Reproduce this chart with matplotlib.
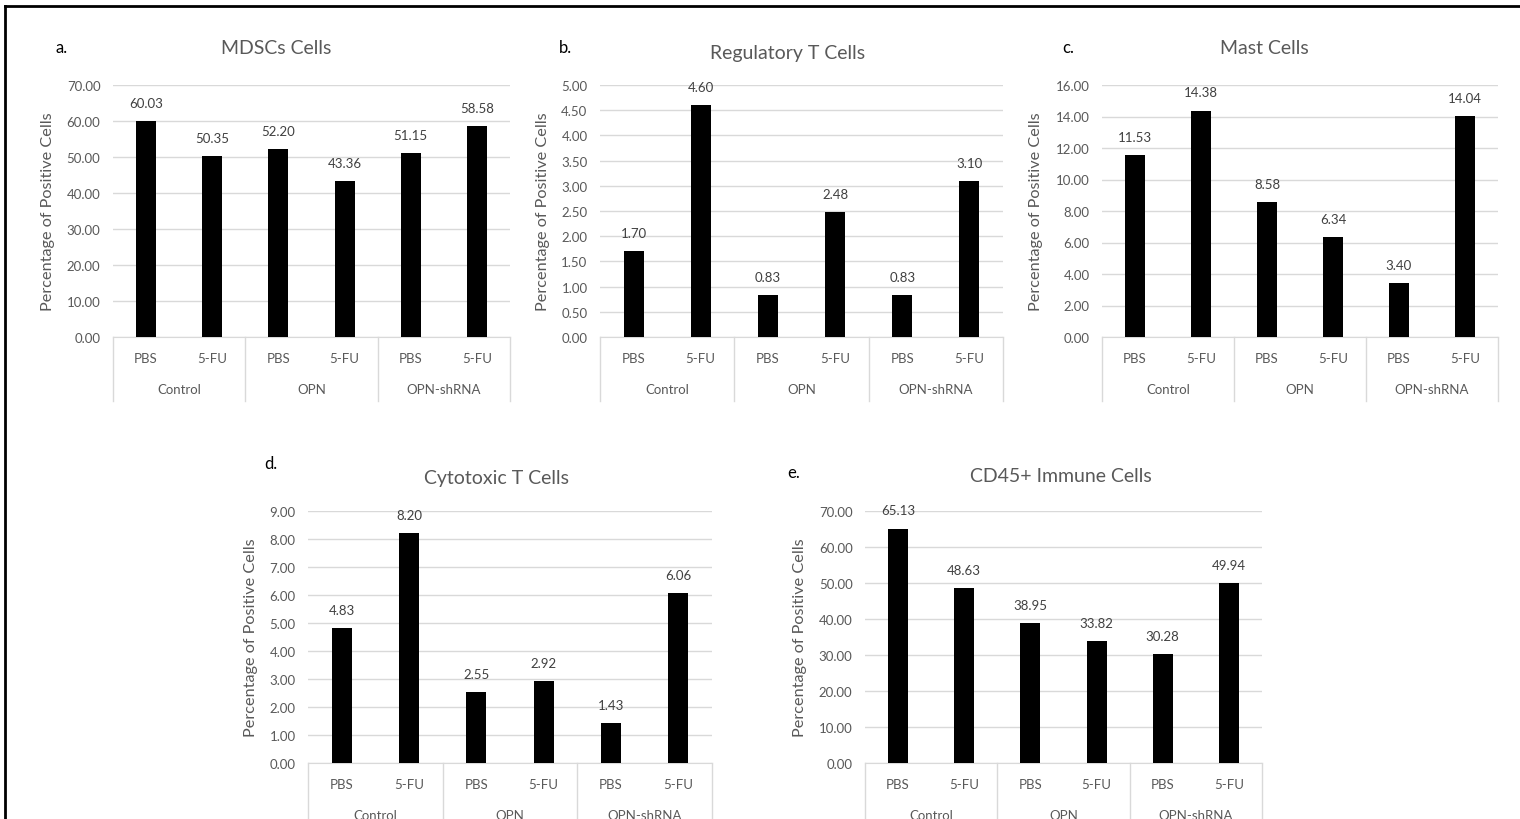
import matplotlib
matplotlib.use('Agg')
import matplotlib.pyplot as plt
from matplotlib.lines import Line2D
from matplotlib.transforms import blended_transform_factory
import numpy as np

plt.rcParams['font.family'] = ['Lato', 'DejaVu Sans']

treatments = ['PBS', '5-FU', 'PBS', '5-FU', 'PBS', '5-FU']
groups = ['Control', 'OPN', 'OPN-shRNA']

mdsc = [60.03, 50.35, 52.20, 43.36, 51.15, 58.58]
treg = [1.70, 4.60, 0.83, 2.48, 0.83, 3.10]
mast = [11.53, 14.38, 8.58, 6.34, 3.40, 14.04]
cytotoxic = [4.83, 8.20, 2.55, 2.92, 1.43, 6.06]
cd45 = [65.13, 48.63, 38.95, 33.82, 30.28, 49.94]

titles = ['MDSCs Cells', 'Regulatory T Cells', 'Mast Cells', 'Cytotoxic T Cells', 'CD45+ Immune Cells']
letters = ['a.', 'b.', 'c.', 'd.', 'e.']
series = [mdsc, treg, mast, cytotoxic, cd45]
ymax = [70, 5, 16, 9, 70]
ystep = [10, 0.5, 2, 1, 10]

W, H = 1520, 820
GRAY = '#595959'
GRID = '#d9d9d9'

# pixel layout: left, right, top, bottom of plot area; title pos; letter pos; ylabel offset
layout = [
    dict(l=113, r=510, t=86, b=338, tx=276, ty=49, lx=62, ly=48, yl=58),
    dict(l=600, r=1003, t=86, b=338, tx=788, ty=54, lx=565, ly=48, yl=50),
    dict(l=1102, r=1498, t=86, b=338, tx=1264, ty=49, lx=1068, ly=48, yl=59),
    dict(l=308, r=712, t=512, b=764, tx=496, ty=479, lx=271, ly=464, yl=50),
    dict(l=865, r=1262, t=512, b=764, tx=1061, ty=477, lx=794, ly=473, yl=58),
]

fig = plt.figure(figsize=(W / 100, H / 100), dpi=100)

# border lines (left and top)
fig.add_artist(Line2D([5 / W, 5 / W], [0, 1 - 7 / H], color='black', lw=2, transform=fig.transFigure))
fig.add_artist(Line2D([5 / W, 1], [1 - 7 / H, 1 - 7 / H], color='black', lw=2, transform=fig.transFigure))

x = np.arange(6)
for i in range(5):
    p = layout[i]
    ax = fig.add_axes([p['l'] / W, 1 - p['b'] / H, (p['r'] - p['l']) / W, (p['b'] - p['t']) / H])
    vals = series[i]
    bars = ax.bar(x, vals, width=0.3, color='black', zorder=3)
    for xi, v in zip(x, vals):
        ax.annotate('%.2f' % v, (xi, v), xytext=(0, 13), textcoords='offset points',
                    ha='center', va='center', fontsize=9.5, color='#404040')
    ax.set_xlim(-0.5, 5.5)
    ax.set_ylim(0, ymax[i])
    ax.set_yticks(np.arange(0, ymax[i] + ystep[i] / 2, ystep[i]))
    ax.set_yticklabels(['%.2f' % t for t in ax.get_yticks()])
    ax.tick_params(axis='y', length=0, pad=9, labelsize=9.5, labelcolor=GRAY)
    ax.set_xticks([])
    ax.grid(axis='y', color=GRID, lw=1, zorder=0)
    for s in ['top', 'right', 'left']:
        ax.spines[s].set_visible(False)
    ax.spines['bottom'].set_color(GRID)
    ax.set_ylabel('Percentage of Positive Cells', fontsize=11.7, color=GRAY)
    ax.yaxis.set_label_coords(-p['yl'] / (p['r'] - p['l']), 0.5)

    # category axis boxes
    ah = p['b'] - p['t']
    tr = blended_transform_factory(ax.transData, ax.transAxes)
    for bx in [-0.5, 1.5, 3.5, 5.5]:
        ax.plot([bx, bx], [0, -64 / ah], color=GRID, lw=1, transform=tr, clip_on=False)
    for xi, lab in zip(x, treatments):
        ax.text(xi, -21 / ah, lab, transform=tr, ha='center', va='center', fontsize=9.5, color=GRAY)
    for gi, g in enumerate(groups):
        ax.text(2 * gi + 0.5, -52 / ah, g, transform=tr, ha='center', va='center', fontsize=9.5, color=GRAY)

    fig.text(p['tx'] / W, 1 - p['ty'] / H, titles[i], ha='center', va='center', fontsize=14, color=GRAY)
    fig.text(p['lx'] / W, 1 - p['ly'] / H, letters[i], ha='center', va='center', fontsize=12, color='black')

fig.savefig('out.png', dpi=100)
